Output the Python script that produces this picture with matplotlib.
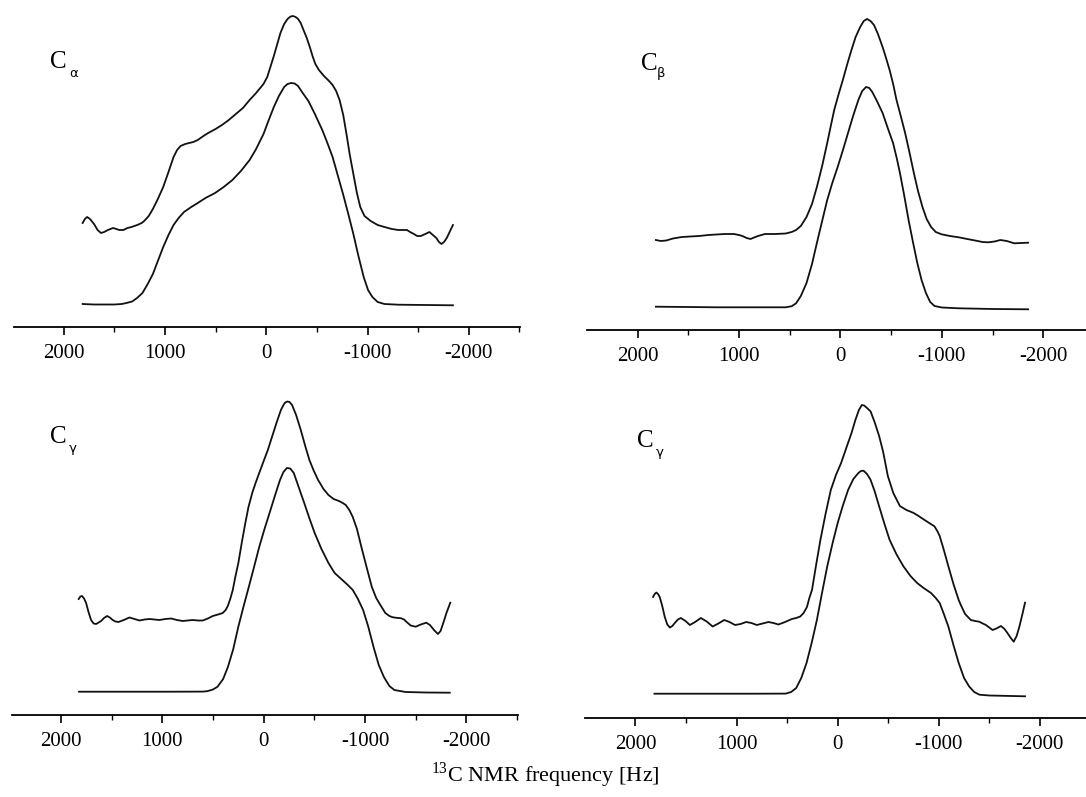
import numpy as np
import matplotlib
matplotlib.use("Agg")
import matplotlib.pyplot as plt
from matplotlib.ticker import MultipleLocator

plt.rcParams["font.family"] = ["Liberation Serif", "DejaVu Serif"]
plt.rcParams["mathtext.fontset"] = "custom"
plt.rcParams["mathtext.rm"] = "Liberation Serif"

# C-alpha: experimental (upper) and simulated (lower) spectra, arbitrary intensity units
ca_exp_hz = [1812, 1790, 1768, 1740, 1700, 1665, 1631, 1600, 1563, 1512, 1480, 1450, 1410, 1370, 1330,
             1273, 1230, 1205, 1160, 1119, 1070, 1017, 965, 915, 880, 846, 800, 761, 720, 676, 620,
             573, 500, 437, 370, 300, 230, 164, 100, 27, -10, -41, -75, -109, -140, -177, -210,
             -240, -263, -290, -315, -340, -372, -400, -430, -460, -485, -520, -570, -620, -655,
             -690, -724, -760, -792, -825, -860, -895, -928, -970, -1031, -1100, -1167, -1240,
             -1304, -1350, -1389, -1420, -1457, -1490, -1526, -1570, -1611, -1645, -1679, -1705,
             -1730, -1755, -1782, -1810, -1843]
ca_exp = [104, 108, 110, 108, 103, 97, 94, 95, 97, 99, 98, 97, 97, 99, 100,
          102, 104, 106, 111, 118, 128, 140, 155, 170, 177, 181, 183, 184, 185, 187, 191,
          194, 198, 202, 207, 213, 219, 227, 234, 243, 250, 260, 271, 283, 294, 303, 308,
          310.5, 311, 310, 308, 304, 296, 289, 280, 270, 263, 257, 251, 246, 242,
          236, 227, 212, 193, 172, 153, 134, 120, 111, 106, 102, 100, 98,
          97, 97, 97, 95, 93, 91, 91, 93, 95, 92, 89, 85,
          83, 85, 89, 95, 102]
ca_sim_hz = [1812, 1700, 1597, 1500, 1427, 1380, 1324, 1275, 1222, 1170, 1119, 1070, 1017, 965, 915,
             865, 812, 740, 676, 600, 505, 420, 334, 250, 164, 100, 27, -25, -75, -125, -177,
             -210, -246, -280, -314, -360, -416, -480, -553, -600, -655, -705, -758, -810, -860,
             -910, -962, -1005, -1048, -1100, -1167, -1304, -1843]
ca_sim = [23, 22.5, 22.5, 22.5, 23, 24, 25.5, 29, 34, 43, 53, 66, 80, 92, 102,
          109, 115, 120, 124, 129, 134, 140, 147, 156, 167, 178, 193, 207, 220, 231, 240,
          243, 244, 243.5, 241, 234, 226, 213, 197, 185, 170, 152, 133, 113, 93,
          71, 50, 37, 30, 25, 23, 22.3, 21.7]

# C-beta
cb_exp_hz = [1819, 1770, 1717, 1650, 1563, 1480, 1392, 1300, 1222, 1140, 1051, 1000, 966, 925, 887,
             850, 812, 744, 640, 539, 480, 437, 390, 334, 280, 232, 180, 130, 95, 61, 20, -24,
             -65, -109, -150, -195, -230, -263, -297, -331, -370, -416, -450, -485, -520, -553,
             -595, -638, -680, -724, -765, -809, -850, -894, -940, -997, -1080, -1167, -1250,
             -1338, -1400, -1457, -1520, -1577, -1640, -1713, -1780, -1850]
cb_exp = [90, 89, 89.5, 91.5, 93, 93.5, 94, 95, 95.5, 96, 96, 95, 94, 92, 91,
          92.5, 94, 96, 96, 96.5, 98, 100, 104, 113, 126, 143, 164, 187, 204, 220, 235, 250,
          265, 280, 293, 303, 309, 311, 309, 305, 296, 283, 272, 260, 246, 230,
          214, 197, 178, 157, 139, 123, 111, 103, 98, 95.7, 94, 92.7, 91,
          89.3, 88, 87.7, 88.5, 90, 89, 86.7, 87, 87.3]
cb_sim_hz = [1819, 1500, 1222, 900, 700, 539, 480, 437, 390, 334, 280, 232, 180, 130, 80, 27, -25,
             -75, -125, -177, -215, -253, -285, -314, -360, -416, -470, -519, -555, -587, -630,
             -672, -715, -758, -800, -843, -885, -928, -1000, -1167, -1500, -1850]
cb_sim = [23.3, 23, 22.7, 22.7, 22.7, 22.7, 23.8, 26.7, 34, 47, 66, 87, 109, 130, 147, 163, 180,
          197, 214, 230, 239, 243, 242, 238, 229, 217, 201, 187, 172, 157, 134,
          110, 88, 67, 50, 37, 28, 24, 22.5, 21.7, 21, 20.7]

# C-gamma (left)
cg1_exp_hz = [1825, 1808, 1792, 1772, 1752, 1728, 1703, 1678, 1653, 1628, 1604, 1575, 1545, 1518,
              1490, 1462, 1433, 1380, 1325, 1275, 1226, 1175, 1127, 1078, 1029, 970, 913, 856, 799,
              750, 700, 650, 601, 550, 502, 450, 404, 375, 354, 330, 305, 280, 250, 215, 181, 150,
              113, 80, 44, 0, -41, -85, -126, -170, -195, -212, -235, -255, -280, -320, -366,
              -410, -451, -495, -537, -590, -639, -690, -742, -780, -810, -845, -879, -920, -964,
              -1015, -1067, -1110, -1145, -1200, -1240, -1274, -1310, -1357, -1385, -1407, -1450,
              -1499, -1550, -1604, -1640, -1680, -1719, -1745, -1775, -1802, -1841]
cg1_exp = [116, 118.5, 119, 116.5, 112, 103, 95, 91.5, 91, 92.5, 94, 97, 99, 97.5,
           95, 93.5, 93, 95, 97.5, 96, 94.5, 95.5, 96, 95.5, 95, 96, 96.5, 95, 94,
           94.5, 95, 94.5, 94.5, 96.5, 99, 100.5, 102, 105, 109, 116, 125, 138, 152, 173, 192, 208,
           222, 232, 242, 254, 265, 279, 292, 305, 310, 312.5, 313.5, 313, 310, 300, 285,
           269, 255, 244, 235, 226, 220, 216, 214, 212, 210, 205, 198, 186, 168,
           148, 128, 117, 111, 102, 99, 97.7, 97.2, 96.7, 95.5, 93.3, 89.5,
           88.3, 90.5, 92.3, 90, 85, 81, 84, 93, 101.7, 112.3]
cg1_sim_hz = [1822, 1500, 1241, 900, 600, 557, 500, 455, 400, 352, 300, 250, 200, 147, 95, 44, -8,
              -58, -110, -161, -195, -229, -262, -297, -345, -400, -450, -503, -570, -639, -700,
              -776, -830, -879, -930, -981, -1030, -1084, -1135, -1186, -1240, -1289, -1400,
              -1600, -1836]
cg1_sim = [23.3, 23.3, 23.3, 23.3, 23.4, 23.8, 25.5, 28.3, 36, 48.3, 66, 88.3, 108, 128, 148, 168, 186,
           202, 219, 235, 243, 247, 246.5, 242, 228, 212, 197, 182, 166, 152, 142,
           135, 130, 125, 116, 105, 89, 68, 50, 38, 29, 25, 23,
           22.5, 22.3]

# C-gamma (right)
cg2_exp_hz = [1826, 1810, 1793, 1777, 1760, 1735, 1710, 1685, 1660, 1635, 1611, 1580, 1551, 1505,
              1462, 1410, 1353, 1295, 1237, 1180, 1122, 1070, 1015, 960, 906, 853, 800, 742, 685,
              635, 586, 520, 453, 410, 370, 337, 304, 280, 254, 215, 171, 120, 68, 17, -34, -85,
              -137, -175, -210, -239, -262, -290, -325, -365, -410, -450, -496, -550, -615, -680,
              -752, -800, -855, -905, -957, -985, -1009, -1050, -1094, -1145, -1197, -1218, -1260,
              -1317, -1360, -1400, -1435, -1466, -1532, -1570, -1615, -1650, -1681, -1712, -1741,
              -1770, -1797, -1825, -1853]
cg2_exp = [121, 124, 125.5, 124, 121, 112, 101, 93.5, 90.5, 92, 95, 98.5, 100, 97,
           93, 96, 100, 96.5, 91.5, 94.5, 98, 96, 93, 94, 96, 95, 93, 94.5, 96,
           95, 93.5, 96, 99, 100, 101.5, 105, 111, 120, 128, 152, 178, 204, 228, 243, 255, 270,
           285, 298, 308, 313, 312.5, 310, 306.7, 296, 282, 266, 242, 225, 212, 208,
           205, 202, 198.3, 195, 191.7, 187, 182, 168, 152, 134, 118, 113, 104,
           98, 97, 96.3, 94.5, 93, 88, 89.5, 92, 89, 84.7, 80, 76.3,
           82, 91.3, 103, 115.3]
cg2_sim_hz = [1812, 1500, 1197, 800, 513, 460, 410, 360, 308, 255, 205, 155, 103, 50, 0, -50, -103,
              -155, -205, -230, -256, -290, -325, -365, -410, -460, -513, -580, -650, -720, -786,
              -850, -923, -970, -1009, -1050, -1094, -1145, -1197, -1250, -1299, -1350, -1402,
              -1500, -1853]
cg2_sim = [24.3, 24.3, 24.3, 24.3, 24.4, 26, 30, 40, 55, 76, 98.3, 125, 151.7, 175, 195, 212, 228,
           239, 245, 247, 247.3, 244, 238.3, 227, 211.7, 195, 178.3, 164, 151.7, 142, 135,
           130, 125, 120, 115, 104, 91.7, 73, 55, 40, 31.7, 26, 23.3,
           22.5, 21.7]

W, H = 1086, 797


def rect(l, r, b, t):
    return [l / W, 1 - b / H, (r - l) / W, (b - t) / H]


fig = plt.figure(figsize=(W / 100, H / 100), dpi=100)

panels = [
    (rect(14, 520, 327, 0), (2490, -2505), 327, ca_exp_hz, ca_exp, ca_sim_hz, ca_sim, "α", (50, 68), (69, 77)),
    (rect(587, 1086, 330, 0), (2498, -2421), 330, cb_exp_hz, cb_exp, cb_sim_hz, cb_sim, "β", (641, 70), (657, 77)),
    (rect(12, 518, 715, 390), (2483, -2509), 325, cg1_exp_hz, cg1_exp, cg1_sim_hz, cg1_sim, "γ", (50, 443), (69, 452)),
    (rect(585, 1086, 718, 393), (2499, -2456), 325, cg2_exp_hz, cg2_exp, cg2_sim_hz, cg2_sim, "γ", (637, 447), (656, 456)),
]

for pos, xl, ytop, ex, ey, sx, sy, greek, cxy, gxy in panels:
    ax = fig.add_axes(pos)
    ax.plot(ex, ey, color="#111111", lw=1.3)
    ax.plot(sx, sy, color="#111111", lw=1.3)
    ax.set_xlim(*xl)
    ax.set_ylim(0, ytop)
    for s in ["top", "left", "right"]:
        ax.spines[s].set_visible(False)
    ax.spines["bottom"].set_linewidth(1.3)
    ax.set_yticks([])
    ax.set_xticks([2000, 1000, 0, -1000, -2000])
    ax.set_xticklabels(["2000", "1000", "0", "-1000", "-2000"])
    ax.xaxis.set_minor_locator(MultipleLocator(500))
    ax.tick_params(axis="x", which="major", direction="out", length=6, width=1.2, labelsize=15, pad=6)
    ax.tick_params(axis="x", which="minor", direction="out", length=3.5, width=1.0)
    ax.patch.set_alpha(0)
    fig.text(cxy[0] / W, 1 - cxy[1] / H, "C", fontsize=18, ha="left", va="baseline")
    fig.text(gxy[0] / W, 1 - gxy[1] / H, greek, fontsize=9.5, ha="left", va="baseline",
             family=["DejaVu Sans"])

fig.text(545 / W, 1 - 782 / H, r"$^{13}$C NMR frequency [Hz]", fontsize=16, ha="center", va="baseline")

fig.savefig("out.png", dpi=100)
